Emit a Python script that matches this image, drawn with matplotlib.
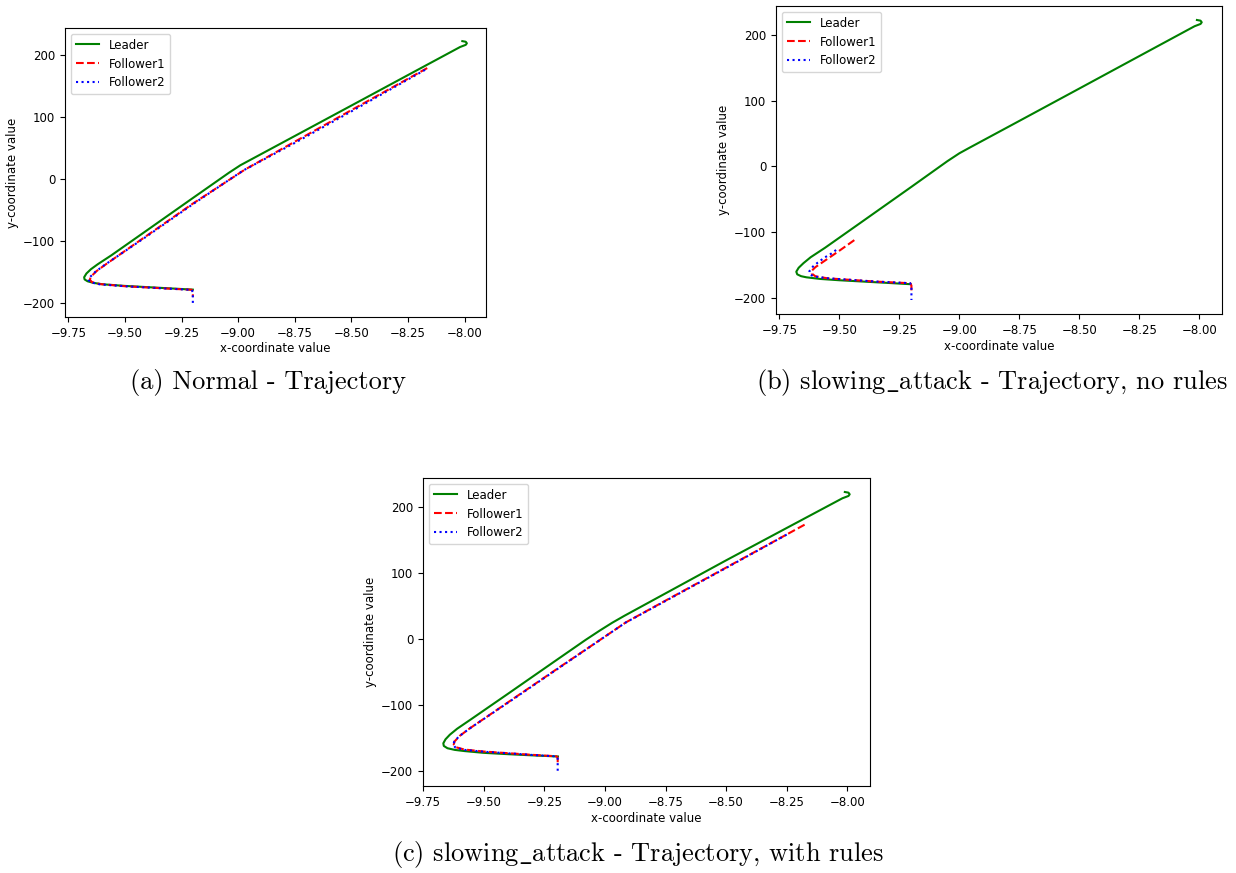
import matplotlib
matplotlib.use("Agg")
import matplotlib.pyplot as plt

plt.rcParams["mathtext.fontset"] = "cm"

# ---------------- data ----------------
series_names = ["Leader", "Follower1", "Follower2"]
captions = ["(a) Normal - Trajectory",
            r"(b) slowing$\_$attack - Trajectory, no rules",
            r"(c) slowing$\_$attack - Trajectory, with rules"]
x_label = "x-coordinate value"
y_label = "y-coordinate value"

# (a) Normal
leader_a_x = [-8.010, -7.995, -7.990, -7.995, -8.020, -8.250, -8.500, -8.750, -8.990, -9.040,
              -9.200, -9.400, -9.560, -9.620, -9.650, -9.670, -9.680, -9.678, -9.665, -9.640,
              -9.600, -9.500, -9.400, -9.300, -9.200]
leader_a_y = [222.5, 221.5, 219.0, 216.5, 213.0, 167.7, 118.4, 69.2, 22.0, 10.0,
              -31.0, -82.5, -123.6, -138.0, -146.0, -153.0, -159.0, -162.5, -165.5, -168.0,
              -170.3, -173.0, -175.0, -177.0, -179.0]
f1_a_x = [-8.165, -8.500, -8.750, -8.970, -9.020, -9.200, -9.400, -9.580, -9.625, -9.650,
          -9.655, -9.645, -9.610, -9.500, -9.400, -9.300, -9.205, -9.200, -9.200]
f1_a_y = [179.0, 111.0, 60.0, 15.0, 3.0, -40.0, -91.0, -137.0, -149.0, -158.0,
          -163.0, -167.0, -170.0, -173.5, -175.5, -177.5, -179.2, -182.0, -191.0]
f2_a_x = [-8.175, -8.500, -8.750, -8.975, -9.025, -9.200, -9.400, -9.585, -9.630, -9.655,
          -9.660, -9.648, -9.610, -9.500, -9.400, -9.300, -9.205, -9.200, -9.200]
f2_a_y = [176.0, 109.0, 58.0, 14.0, 2.0, -41.0, -92.0, -138.0, -150.0, -159.0,
          -164.0, -167.5, -170.5, -173.5, -175.5, -177.5, -179.4, -183.0, -202.0]

# (b) slowing_attack, no rules
leader_b_x = [-8.010, -7.995, -7.990, -7.995, -8.020, -8.250, -8.500, -8.750, -8.960, -9.000,
              -9.050, -9.200, -9.400, -9.560, -9.620, -9.650, -9.670, -9.680, -9.676, -9.660,
              -9.638, -9.580, -9.500, -9.400, -9.300, -9.204]
leader_b_y = [222.5, 221.5, 219.0, 216.5, 213.0, 167.7, 118.4, 69.2, 28.0, 20.0,
              8.0, -31.0, -82.5, -123.6, -138.0, -147.0, -154.0, -160.0, -164.0, -166.8,
              -168.5, -171.0, -173.0, -175.0, -177.0, -179.0]
f1_b_x = [-9.438, -9.500, -9.560, -9.600, -9.614, -9.615, -9.600, -9.550, -9.450, -9.350,
          -9.205, -9.200, -9.200]
f1_b_y = [-112.0, -128.0, -143.0, -153.0, -158.0, -163.0, -167.0, -170.0, -172.5, -175.0,
          -177.5, -181.0, -192.0]
f2_b_x = [-9.514, -9.540, -9.560, -9.590, -9.610, -9.625, -9.625, -9.610, -9.550, -9.450,
          -9.350, -9.205, -9.200, -9.200]
f2_b_y = [-127.0, -134.0, -138.0, -146.0, -152.0, -159.0, -163.0, -167.0, -170.0, -172.5,
          -175.0, -177.5, -182.0, -203.0]

# (c) slowing_attack, with rules
leader_c_x = [-8.010, -7.995, -7.990, -7.995, -8.020, -8.250, -8.500, -8.750, -8.920, -8.970,
              -9.020, -9.080, -9.200, -9.400, -9.550, -9.610, -9.640, -9.658, -9.667, -9.665,
              -9.650, -9.620, -9.580, -9.500, -9.400, -9.300, -9.194]
leader_c_y = [222.5, 221.5, 219.0, 216.5, 213.0, 168.0, 119.0, 69.0, 35.0, 24.5,
              13.0, -1.5, -32.0, -83.0, -121.0, -136.0, -145.0, -152.0, -158.0, -162.0,
              -165.5, -168.0, -169.8, -172.5, -174.5, -176.3, -178.0]
f1_c_x = [-8.176, -8.500, -8.750, -8.914, -8.970, -9.200, -9.400, -9.560, -9.600, -9.620,
          -9.624, -9.615, -9.580, -9.500, -9.400, -9.300, -9.200, -9.195, -9.195]
f1_c_y = [173.0, 108.0, 58.0, 25.0, 11.0, -46.0, -96.0, -136.0, -147.0, -155.0,
          -160.0, -164.0, -167.5, -170.5, -173.0, -175.5, -177.7, -180.0, -190.0]
f2_c_x = [-8.250, -8.500, -8.750, -8.916, -8.972, -9.200, -9.400, -9.562, -9.602, -9.622,
          -9.626, -9.617, -9.580, -9.500, -9.400, -9.300, -9.200, -9.195, -9.195]
f2_c_y = [158.0, 107.5, 57.5, 24.5, 10.5, -46.5, -96.5, -136.5, -147.5, -155.5,
          -160.5, -164.5, -168.0, -170.8, -173.2, -175.7, -177.9, -181.0, -201.5]

panels = [
    (leader_a_x, leader_a_y, f1_a_x, f1_a_y, f2_a_x, f2_a_y),
    (leader_b_x, leader_b_y, f1_b_x, f1_b_y, f2_b_x, f2_b_y),
    (leader_c_x, leader_c_y, f1_c_x, f1_c_y, f2_c_x, f2_c_y),
]

# ---------------- layout ----------------
W, H = 1236, 873
fig = plt.figure(figsize=(W / 100, H / 100), dpi=100)

def px_axes(l, t, r, b):
    return fig.add_axes([l / W, 1 - b / H, (r - l) / W, (b - t) / H])

axes_px = [(65, 28, 486, 317), (776, 6, 1222, 314), (423, 478, 870, 786)]
caption_pos = [(268, 382), (992, 382), (638, 855)]

fs = 8.5
for (l, t, r, b), data in zip(axes_px, panels):
    ax = px_axes(l, t, r, b)
    lx, ly, f1x, f1y, f2x, f2y = data
    ax.plot(lx, ly, color="green", linestyle="-", lw=1.5, label=series_names[0])
    ax.plot(f1x, f1y, color="red", linestyle="--", lw=1.5, label=series_names[1])
    ax.plot(f2x, f2y, color="blue", linestyle=":", lw=1.5, label=series_names[2])
    ax.set_xticks([-9.75, -9.5, -9.25, -9.0, -8.75, -8.5, -8.25, -8.0])
    ax.set_yticks([-200, -100, 0, 100, 200])
    ax.tick_params(labelsize=fs, length=3.5, width=0.8)
    for s in ax.spines.values():
        s.set_linewidth(0.8)
    ax.set_xlabel(x_label, fontsize=fs, labelpad=2)
    ax.set_ylabel(y_label, fontsize=fs, labelpad=3)
    ax.legend(loc="upper left", fontsize=fs, handlelength=2.0)

for (cx, cy), cap in zip(caption_pos, captions):
    fig.text(cx / W, 1 - cy / H, cap, ha="center", va="center",
             fontsize=19, family=["cmr10", "DejaVu Serif"])

fig.savefig("out.png", dpi=100)
